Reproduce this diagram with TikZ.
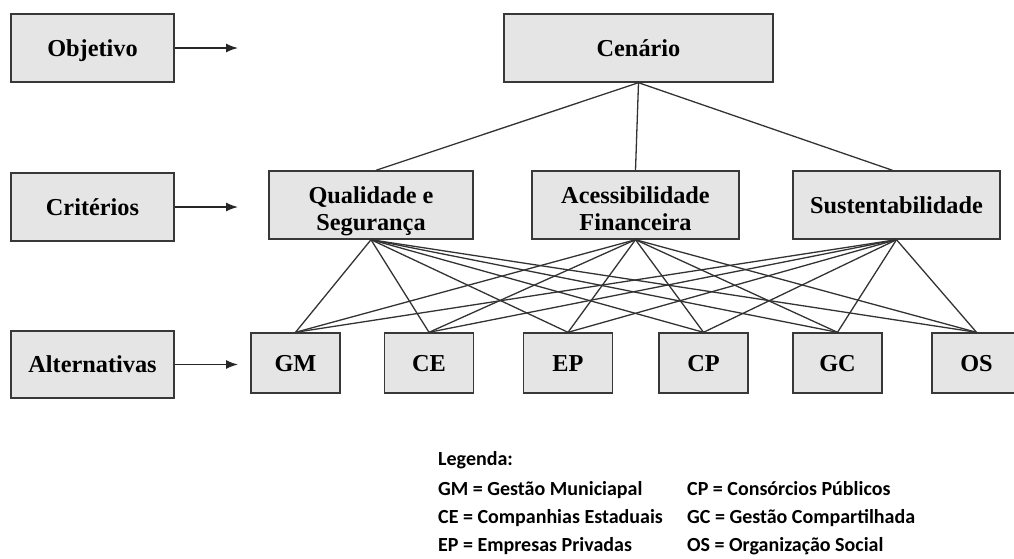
\documentclass[tikz,border=0pt]{standalone}
\usepackage{fontspec}
\setmainfont{Liberation Serif}
\newfontfamily\legfont{Carlito}
\usetikzlibrary{arrows.meta}

\begin{document}
\begin{tikzpicture}[x=1pt, y=-1pt,
  box/.style={draw=black!78, fill=black!10, line width=1.4pt, inner sep=0pt,
    align=center, minimum height=68pt, text height=16pt, text depth=0pt,
    font=\bfseries\fontsize{24.3}{27}\selectfont},
  twoline/.style={text height=50pt, text depth=0pt},
  alt/.style={box, minimum width=89pt, minimum height=60pt},
  leg/.style={anchor=base west, inner sep=0pt, font=\legfont\bfseries\fontsize{20}{24}\selectfont},
  link/.style={draw=black!80, line width=1.3pt},
  pointer/.style={draw=black!85, line width=1.4pt, -{Latex[length=12pt,width=9pt]}}]
\clip (0,0) rectangle (1014,558);
\node[box, minimum width=163pt](obj) at (92.5,48){Objetivo};
\node[box, minimum width=163pt](crit) at (92.5,207){Critérios};
\node[box, minimum width=163pt, minimum height=67pt](alts) at (92.5,364.5){Alternativas};
\node[box, minimum width=269pt](cen) at (638.5,48){Cenário};
\node[box, twoline, minimum width=204pt](qs) at (371,205){Qualidade e\\Segurança};
\node[box, twoline, minimum width=207pt](af) at (635.5,205){Acessibilidade\\Financeira};
\node[box, minimum width=207pt](sus) at (896.5,205){Sustentabilidade};
\node[alt](gm) at (295.5,363){GM};
\node[alt](ce) at (429,363){CE};
\node[alt](ep) at (568,363){EP};
\node[alt](cp) at (703.5,363){CP};
\node[alt](gc) at (837.5,363){GC};
\node[alt](os) at (976.5,363){OS};
\coordinate (objend) at (238,48);
\coordinate (critend) at (238,207);
\coordinate (altend) at (238,364.5);
\draw [pointer](obj) -- (objend);
\draw [pointer](crit) -- (critend);
\draw [pointer](alts) -- (altend);
\draw [link](cen.south) -- ([xshift=5pt]qs.north);
\draw [link](cen.south) -- (af.north);
\draw [link](cen.south) -- ([xshift=-4pt]sus.north);
\draw [link](qs.south) -- (gm.north);
\draw [link](qs.south) -- (ce.north);
\draw [link](qs.south) -- (ep.north);
\draw [link](qs.south) -- (cp.north);
\draw [link](qs.south) -- (gc.north);
\draw [link](qs.south) -- (os.north);
\draw [link](af.south) -- (gm.north);
\draw [link](af.south) -- (ce.north);
\draw [link](af.south) -- (ep.north);
\draw [link](af.south) -- (cp.north);
\draw [link](af.south) -- (gc.north);
\draw [link](af.south) -- (os.north);
\draw [link](sus.south) -- (gm.north);
\draw [link](sus.south) -- (ce.north);
\draw [link](sus.south) -- (ep.north);
\draw [link](sus.south) -- (cp.north);
\draw [link](sus.south) -- (gc.north);
\draw [link](sus.south) -- (os.north);
\node[leg](legtitle) at (438,465){Legenda:};
\node[leg](leggm) at (438,495){GM = Gestão Municiapal};
\node[leg](legce) at (438,523){CE = Companhias Estaduais};
\node[leg](legep) at (438,551){EP = Empresas Privadas};
\node[leg](legcp) at (687,495){CP = Consórcios Públicos};
\node[leg](leggc) at (687,523){GC = Gestão Compartilhada};
\node[leg](legos) at (687,551){OS = Organização Social};
\end{tikzpicture}
\end{document}
